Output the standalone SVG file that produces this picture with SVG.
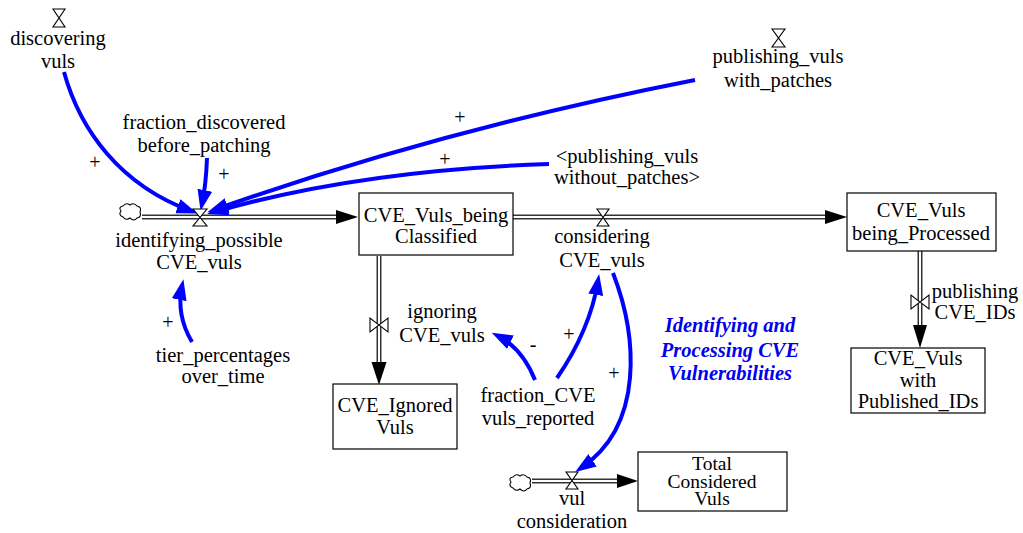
<svg xmlns="http://www.w3.org/2000/svg" width="1023" height="533" viewBox="0 0 1023 533" font-family="'Liberation Serif', 'Times New Roman', serif">
<style>
text{font-family:'Liberation Serif','Times New Roman',serif;font-size:20.5px;fill:#000;text-anchor:middle}
.sign{font-size:20px}
.small{font-size:19.5px}
.title{font-weight:bold;font-style:italic;fill:#0000ee}
.box{fill:#fff;stroke:#000;stroke-width:1.2}
.pipeo{fill:none;stroke:#333;stroke-width:5}
.pipei{fill:none;stroke:#fff;stroke-width:2}
.valve{fill:#fff;stroke:#000;stroke-width:1.1}
.cloud{fill:#fff;stroke:#000;stroke-width:1.1}
.link{fill:none;stroke:#0000ff;stroke-width:4}
.head{fill:#000}
</style>
<defs>
<marker id="ah" markerUnits="userSpaceOnUse" markerWidth="22" markerHeight="16" refX="14" refY="7.5" orient="auto" viewBox="0 0 22 15">
<path d="M0,0 L21,7.5 L0,15 z" fill="#0000ff"/>
</marker>
<path id="cl" d="M4,3 Q7,-1 11,2 Q15,-1 18,3 Q23,4 21,9 Q23,14 18,15 Q15,19 11,15 Q7,18 4,14 Q-1,12 2,8 Q-1,4 4,3 Z"/>
</defs>

<g id="connectors">
<path class="pipeo" d="M142,217 H338"/><path class="pipei" d="M142,217 H338"/>
<path class="pipeo" d="M513,217 H827"/><path class="pipei" d="M513,217 H827"/>
<path class="pipeo" d="M379,256 V364"/><path class="pipei" d="M379,256 V364"/>
<path class="pipeo" d="M920,251 V327"/><path class="pipei" d="M920,251 V327"/>
<path class="pipeo" d="M532,481 H618"/><path class="pipei" d="M532,481 H618"/>
<path class="head" d="M336,210 L358,217 L336,224 z"/>
<path class="head" d="M825,210 L847,217 L825,224 z"/>
<path class="head" d="M371.5,362 L379,385 L386.5,362 z"/>
<path class="head" d="M913,325 L920,348 L927,325 z"/>
<path class="head" d="M617,474 L638,481 L617,488 z"/>
<path class="link" marker-end="url(#ah)" d="M64,72 C80,130 120,185 191,211"/>
<path class="link" marker-end="url(#ah)" d="M207,158 Q206,185 202,204"/>
<path class="link" marker-end="url(#ah)" d="M695,80 Q440,130 214,210"/>
<path class="link" marker-end="url(#ah)" d="M549,164 Q360,170 214,212"/>
<path class="link" marker-end="url(#ah)" d="M192,342 Q176,315 182,286"/>
<path class="link" marker-end="url(#ah)" d="M535,380 Q522,348 498,336"/>
<path class="link" marker-end="url(#ah)" d="M557,378 Q590,330 598,281"/>
<path class="link" marker-end="url(#ah)" d="M613,273 C637,335 645,425 581,468"/>
<text class="sign" x="95" y="169">+</text>
<text class="sign" x="224" y="181">+</text>
<text class="sign" x="460" y="124">+</text>
<text class="sign" x="445" y="166">+</text>
<text class="sign" x="168" y="329">+</text>
<text class="sign" x="533" y="351">-</text>
<text class="sign" x="569" y="341">+</text>
<text class="sign" x="614" y="380">+</text>
</g>

<g id="cloud-source-1"><use href="#cl" class="cloud" transform="translate(119,203)"/></g>
<g id="cloud-source-2"><use href="#cl" class="cloud" transform="translate(509,474)"/></g>

<g id="discovering_vuls">
<path class="valve" d="M53,9 L65,9 L53,27 L65,27 Z"/>
<text x="58" y="45">discovering</text><text x="58" y="68">vuls</text>
</g>
<g id="fraction_discovered_before_patching">
<text x="204" y="129">fraction_discovered</text><text x="204" y="152">before_patching</text>
</g>
<g id="identifying_possible_CVE_vuls">
<path class="valve" d="M193,209 L207,209 L193,226 L207,226 Z"/>
<text x="199" y="247">identifying_possible</text><text x="199" y="269">CVE_vuls</text>
</g>
<g id="publishing_vuls_with_patches">
<path class="valve" d="M772,29 L785,29 L772,47 L785,47 Z"/>
<text x="778" y="63">publishing_vuls</text><text x="778" y="87">with_patches</text>
</g>
<g id="publishing_vuls_without_patches">
<text x="627" y="163">&lt;publishing_vuls</text><text x="627" y="184">without_patches&gt;</text>
</g>
<g id="CVE_Vuls_being_Classified">
<rect class="box" x="359" y="193" width="154" height="62"/>
<text x="436" y="222">CVE_Vuls_being</text><text x="436" y="243">Classified</text>
</g>
<g id="considering_CVE_vuls">
<path class="valve" d="M597,209 L609,209 L597,226 L609,226 Z"/>
<text x="602" y="243">considering</text><text x="602" y="267">CVE_vuls</text>
</g>
<g id="CVE_Vuls_being_Processed">
<rect class="box" x="847" y="193" width="149" height="58"/>
<text x="921" y="217">CVE_Vuls</text><text x="921" y="240">being_Processed</text>
</g>
<g id="publishing_CVE_IDs">
<path class="valve" d="M911,295 L911,309 L929,295 L929,309 Z"/>
<text x="975" y="298">publishing</text><text x="975" y="319">CVE_IDs</text>
</g>
<g id="CVE_Vuls_with_Published_IDs">
<rect class="box" x="851" y="348" width="134" height="65"/>
<text x="918" y="365">CVE_Vuls</text><text x="918" y="387">with</text><text x="918" y="408">Published_IDs</text>
</g>
<g id="ignoring_CVE_vuls">
<path class="valve" d="M370,318 L370,332 L388,318 L388,332 Z"/>
<text x="442" y="318">ignoring</text><text x="442" y="342">CVE_vuls</text>
</g>
<g id="CVE_Ignored_Vuls">
<rect class="box" x="333" y="384" width="124" height="65"/>
<text x="395" y="412">CVE_Ignored</text><text x="395" y="434">Vuls</text>
</g>
<g id="fraction_CVE_vuls_reported">
<text x="538" y="402">fraction_CVE</text><text x="538" y="425">vuls_reported</text>
</g>
<g id="tier_percentages_over_time">
<text x="223" y="362">tier_percentages</text><text x="223" y="383">over_time</text>
</g>
<g id="vul_consideration">
<path class="valve" d="M566,472 L578,472 L566,489 L578,489 Z"/>
<text x="572" y="505">vul</text><text x="572" y="528">consideration</text>
</g>
<g id="Total_Considered_Vuls">
<rect class="box" x="638" y="452" width="149" height="59"/>
<text class="small" x="712" y="470">Total</text><text class="small" x="712" y="488">Considered</text><text class="small" x="712" y="505">Vuls</text>
</g>
<g id="title">
<text class="title" x="730" y="332">Identifying and</text>
<text class="title" x="730" y="357">Processing CVE</text>
<text class="title" x="730" y="380">Vulnerabilities</text>
</g>
</svg>
